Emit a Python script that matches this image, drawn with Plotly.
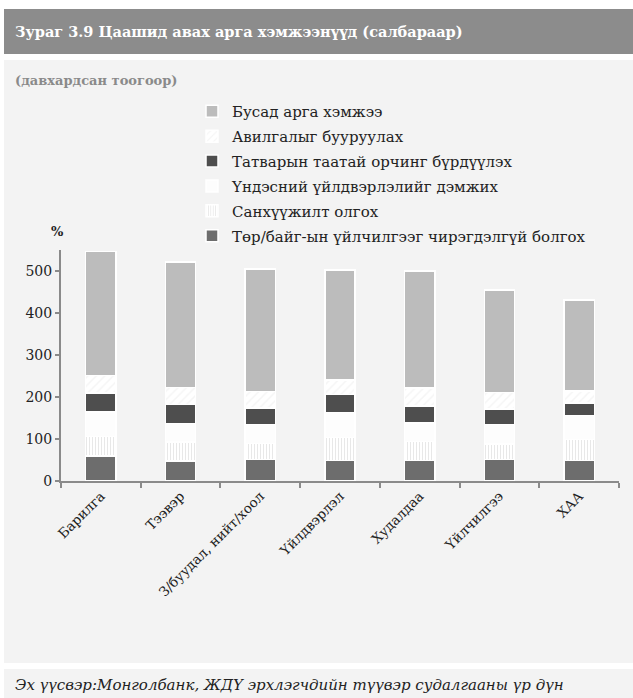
import plotly.graph_objects as go

# Sectors (x axis categories)
sectors = ["Барилга", "Тээвэр", "З/буудал, нийт/хоол", "Үйлдвэрлэл",
           "Худалдаа", "Үйлчилгээ", "ХАА"]

# Stacked measures, bottom to top (%, multiple answers allowed)
gov_service = [60, 48, 51, 49, 49, 51, 49]      # Төр/байг-ын үйлчилгээг чирэгдэлгүй болгох
financing = [46, 45, 38, 55, 45, 37, 50]        # Санхүүжилт олгох
domestic = [58, 44, 46, 59, 44, 46, 57]         # Үндэсний үйлдвэрлэлийг дэмжих
tax = [45, 45, 39, 43, 40, 38, 30]              # Татварын таатай орчинг бүрдүүлэх
corruption = [42, 41, 39, 34, 44, 39, 28]       # Авилгалыг бууруулах
other = [296, 299, 292, 262, 278, 244, 217]     # Бусад арга хэмжээ

series_names = [
    "Төр/байг-ын үйлчилгээг чирэгдэлгүй болгох",
    "Санхүүжилт олгох",
    "Үндэсний үйлдвэрлэлийг дэмжих",
    "Татварын таатай орчинг бүрдүүлэх",
    "Авилгалыг бууруулах",
    "Бусад арга хэмжээ",
]
series_values = [gov_service, financing, domestic, tax, corruption, other]

y_ticks = [0, 100, 200, 300, 400, 500]

# Page geometry (pixels) used to place panels and texts around the plot area
W, H = 633, 698
PL, PR, PT, PB = 61, 619, 250, 481


def px(x):
    return (x - PL) / (PR - PL)


def py(y):
    return (PB - y) / (PB - PT)


SERIF = "DejaVu Serif"

styles = [
    dict(color="#6d6d6d"),
    dict(color="white", pattern=dict(shape="|", fgcolor="#d2d2d2", bgcolor="white",
                                     size=3, solidity=0.35)),
    dict(color="#fdfdfd"),
    dict(color="#4e4e4e"),
    dict(color="white", pattern=dict(shape="/", fgcolor="#ececec", bgcolor="white",
                                     size=6, solidity=0.25)),
    dict(color="#bcbcbc"),
]

fig = go.Figure()
n = len(series_names)
for i, (name, vals, st) in enumerate(zip(series_names, series_values, styles)):
    marker = dict(color=st["color"], line=dict(color="white", width=1.5))
    if "pattern" in st:
        marker["pattern"] = st["pattern"]
    # top segment listed first in the legend
    fig.add_trace(go.Bar(x=sectors, y=vals, name=name, marker=marker,
                         width=0.38, legendgroup=f"g{i}",
                         legendrank=100 * (n - i)))

shapes = [
    # header bar
    dict(type="rect", xref="paper", yref="paper", x0=px(4), x1=px(634),
         y0=py(54), y1=py(9), fillcolor="#8c8c8c", line_width=0, layer="below"),
    # main panel
    dict(type="rect", xref="paper", yref="paper", x0=px(4), x1=px(634),
         y0=py(663), y1=py(60), fillcolor="#f3f3f3", line_width=0, layer="below"),
    # source panel
    dict(type="rect", xref="paper", yref="paper", x0=px(4), x1=px(634),
         y0=py(699), y1=py(669), fillcolor="#f3f3f3", line_width=0, layer="below"),
]

annotations = [
    dict(text="<b>Зураг 3.9 Цаашид авах арга хэмжээнүүд (салбараар)</b>",
         xref="paper", yref="paper", x=px(13), y=py(31), xanchor="left",
         yanchor="middle", showarrow=False,
         font=dict(family=SERIF, size=14.5, color="white")),
    dict(text="<b>(давхардсан тоогоор)</b>",
         xref="paper", yref="paper", x=px(13), y=py(80), xanchor="left",
         yanchor="middle", showarrow=False,
         font=dict(family=SERIF, size=13, color="#8a8a8a")),
    dict(text="<b>%</b>",
         xref="paper", yref="paper", x=px(57), y=py(231), xanchor="center",
         yanchor="middle", showarrow=False,
         font=dict(family=SERIF, size=13, color="#222222")),
    dict(text="<i>Эх үүсвэр:Монголбанк, ЖДҮ эрхлэгчдийн түүвэр судалгааны үр дүн</i>",
         xref="paper", yref="paper", x=px(13), y=py(685), xanchor="left",
         yanchor="middle", showarrow=False,
         font=dict(family=SERIF, size=15, color="#222222")),
]

fig.update_layout(
    width=W, height=H,
    margin=dict(l=PL, r=W - PR, t=PT, b=H - PB, pad=0),
    barmode="stack",
    paper_bgcolor="white",
    plot_bgcolor="rgba(0,0,0,0)",
    font=dict(family=SERIF, size=14, color="#222222"),
    shapes=shapes,
    annotations=annotations,
    showlegend=True,
    legend=dict(traceorder="grouped", tracegroupgap=2.4,
                x=px(192), y=py(95),
                xanchor="left", yanchor="top", bgcolor="rgba(0,0,0,0)",
                font=dict(family=SERIF, size=15, color="#222222"),
                itemwidth=30),
    xaxis=dict(showline=True, linecolor="#8a8a8a", linewidth=2,
               ticks="outside", tickson="boundaries", ticklen=5,
               tickcolor="#8a8a8a", tickwidth=1.5, tickangle=-45,
               tickfont=dict(family=SERIF, size=13.5, color="#222222"),
               showgrid=False, zeroline=False),
    yaxis=dict(range=[0, 550], tickvals=y_ticks, showline=True,
               linecolor="#8a8a8a", linewidth=2, ticks="outside", ticklen=4,
               tickcolor="#8a8a8a", tickwidth=1.5, showgrid=False,
               zeroline=False,
               tickfont=dict(family=SERIF, size=14, color="#222222")),
)

fig.write_html("out.html")
